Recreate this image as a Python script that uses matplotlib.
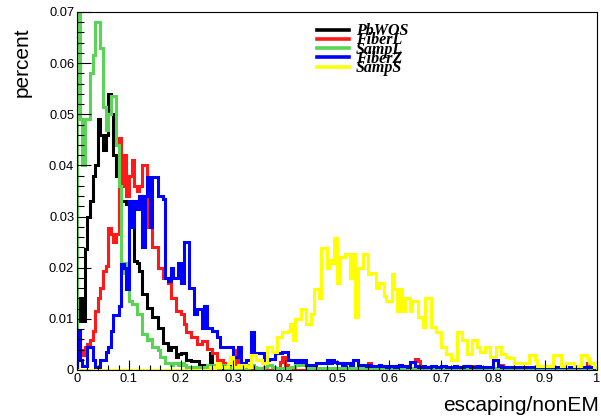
import numpy as np
import matplotlib
matplotlib.use("Agg")
import matplotlib.pyplot as plt
from matplotlib.ticker import MultipleLocator, FuncFormatter

# bin edges: 200 bins from 0 to 1
edges = np.linspace(0.0, 1.0, 201)

labels = ["PbWOS", "FiberL", "SampL", "FiberZ", "SampS"]
colors = ["#000000", "#ff1a1a", "#59d454", "#0000ff", "#ffff00"]

pbwos = [
    0.0095, 0.014, 0.0095, 0.0236, 0.030, 0.033, 0.038, 0.040, 0.049, 0.046,
    0.043, 0.046, 0.054, 0.050, 0.042, 0.038, 0.035, 0.033, 0.033, 0.0325,
    0.030, 0.029, 0.0213, 0.021, 0.0194, 0.0149, 0.0149, 0.0122, 0.0122, 0.0103,
    0.0103, 0.0083, 0.0083, 0.0052, 0.0052, 0.0039, 0.0045, 0.0045, 0.0026, 0.0032,
    0.0033, 0.0033, 0.002, 0.002, 0.0017, 0.0017, 0.0017, 0.001, 0.001, 0.001,
    0.001, 0.0033, 0.001, 0.0005, 0.0005, 0.0005, 0.0, 0.0005, 0.0, 0.002,
    0.0, 0.0005, 0.0, 0.0, 0.0005, 0.0, 0.0, 0.0, 0.0005, 0.0,
] + [0.0] * 130

fiberl = [
    0.0075, 0.004, 0.003, 0.0045, 0.005, 0.0058, 0.0077, 0.0116, 0.014, 0.016,
    0.0193, 0.0203, 0.0277, 0.0265, 0.025, 0.0265, 0.0454, 0.036, 0.042, 0.034,
    0.038, 0.041, 0.036, 0.035, 0.036, 0.040, 0.040, 0.028, 0.028, 0.024,
    0.024, 0.020, 0.020, 0.018, 0.018, 0.017, 0.014, 0.014, 0.0116, 0.0116,
    0.011, 0.009, 0.0074, 0.0074, 0.0064, 0.0064, 0.005, 0.005, 0.0056, 0.0056,
    0.0042, 0.0042, 0.0033, 0.0033, 0.002, 0.002, 0.0013, 0.0013, 0.0006, 0.0006,
    0.0006, 0.0039, 0.0005, 0.0005, 0.0005, 0.001, 0.0, 0.0005, 0.0, 0.0,
    0.0, 0.0, 0.0005, 0.0, 0.0, 0.0, 0.0, 0.0, 0.0015, 0.0025,
    0.001, 0.0, 0.0, 0.0, 0.0, 0.0, 0.0, 0.0, 0.0, 0.0005,
    0.0, 0.0, 0.0, 0.0, 0.0, 0.0, 0.0, 0.0, 0.0, 0.0,
    0.0, 0.0, 0.0, 0.0, 0.0, 0.0, 0.0, 0.0, 0.0, 0.0,
    0.0, 0.0, 0.0013, 0.0, 0.0, 0.0, 0.0, 0.0, 0.0, 0.0008,
    0.0, 0.0, 0.0, 0.0, 0.0, 0.0, 0.0, 0.0, 0.0, 0.0,
    0.0022, 0.0018, 0.0, 0.0, 0.0, 0.0, 0.0, 0.0, 0.0, 0.0,
    0.0008, 0.0, 0.0, 0.0, 0.0, 0.0, 0.0, 0.0, 0.0, 0.0,
    0.0, 0.0, 0.0008, 0.0, 0.0, 0.0, 0.0, 0.0, 0.0, 0.0,
    0.0, 0.0, 0.0, 0.001, 0.0, 0.0, 0.0, 0.0, 0.0, 0.0,
    0.0, 0.0, 0.0, 0.0, 0.0, 0.0, 0.0, 0.0, 0.0, 0.0,
    0.0, 0.0, 0.0, 0.0, 0.0, 0.0, 0.0, 0.0, 0.0, 0.0,
    0.0, 0.0, 0.0, 0.0, 0.0, 0.0, 0.0013, 0.0, 0.0, 0.0,
]

sampl = [
    0.072, 0.049, 0.040, 0.049, 0.049, 0.058, 0.0615, 0.068, 0.068, 0.063,
    0.0515, 0.047, 0.050, 0.0535, 0.0535, 0.044, 0.036, 0.019, 0.021, 0.018,
    0.0135, 0.013, 0.013, 0.011, 0.011, 0.007, 0.007, 0.0058, 0.006, 0.0045,
    0.0045, 0.004, 0.0025, 0.0025, 0.0013, 0.0013, 0.001, 0.0013, 0.0013, 0.001,
    0.0013, 0.001, 0.0006, 0.0004, 0.0006, 0.0004, 0.0006, 0.0004, 0.0006, 0.0006,
    0.001, 0.001, 0.001, 0.0006, 0.0004, 0.0006, 0.001, 0.0004, 0.0006, 0.0004,
    0.0004, 0.0006, 0.0004, 0.0004, 0.0006, 0.0004, 0.001, 0.001, 0.0006, 0.0004,
    0.0004, 0.0004, 0.0006, 0.001, 0.001, 0.0006, 0.0004, 0.0004, 0.0004, 0.0004,
    0.0004, 0.0004, 0.0006, 0.0006, 0.001, 0.001, 0.001, 0.001, 0.0006, 0.0004,
    0.0004, 0.0004, 0.0004, 0.0004, 0.0004, 0.0004, 0.0004, 0.0004, 0.0004, 0.0004,
    0.0003, 0.0003, 0.0003, 0.0003, 0.0003, 0.0003, 0.0003, 0.0003, 0.0003, 0.0003,
    0.0003, 0.0003, 0.0003, 0.0003, 0.0003, 0.0003, 0.0003, 0.0003, 0.0003, 0.0003,
    0.0003, 0.0003, 0.0003, 0.0003, 0.0003, 0.0003, 0.0003, 0.0003, 0.0003, 0.0003,
    0.0003, 0.0003, 0.0003, 0.0003, 0.0003, 0.0003, 0.0003, 0.0003, 0.0003, 0.0003,
    0.0003, 0.0003, 0.0003, 0.0003, 0.0003, 0.0003, 0.0003, 0.0003, 0.0003, 0.0003,
    0.0003, 0.0003, 0.0003, 0.0003, 0.0003, 0.0003, 0.0003, 0.0003, 0.0003, 0.0003,
    0.0003, 0.0003, 0.0003, 0.0003, 0.0003, 0.0003, 0.0, 0.0, 0.0, 0.0,
] + [0.0] * 30

fiberz = [
    0.0077, 0.002, 0.0008, 0.0008, 0.0045, 0.0045, 0.002, 0.0006, 0.0006, 0.002,
    0.002, 0.0035, 0.0045, 0.0077, 0.0108, 0.0108, 0.0126, 0.0207, 0.020, 0.0158,
    0.033, 0.028, 0.033, 0.0315, 0.034, 0.024, 0.034, 0.0377, 0.028, 0.0377,
    0.0377, 0.034, 0.034, 0.0335, 0.018, 0.0175, 0.020, 0.018, 0.018, 0.021,
    0.017, 0.0251, 0.0251, 0.016, 0.016, 0.011, 0.012, 0.012, 0.0083, 0.0125,
    0.0083, 0.0083, 0.0077, 0.0077, 0.0064, 0.0045, 0.0045, 0.0045, 0.0045, 0.0045,
    0.0026, 0.0026, 0.0045, 0.0013, 0.0013, 0.002, 0.002, 0.0074, 0.0033, 0.0033,
    0.0033, 0.0033, 0.0019, 0.0019, 0.0022, 0.0022, 0.0033, 0.0033, 0.0033, 0.0036,
    0.0036, 0.002, 0.002, 0.002, 0.0015, 0.002, 0.0015, 0.002, 0.001, 0.001,
    0.001, 0.001, 0.0013, 0.0013, 0.0013, 0.0013, 0.002, 0.0013, 0.002, 0.0015,
    0.0013, 0.0013, 0.001, 0.0013, 0.0013, 0.001, 0.002, 0.002, 0.001, 0.001,
    0.001, 0.0008, 0.001, 0.0008, 0.0008, 0.0008, 0.001, 0.0008, 0.0008, 0.0006,
    0.0008, 0.0008, 0.0006, 0.0008, 0.001, 0.0008, 0.0008, 0.0006, 0.0015, 0.0015,
    0.0008, 0.0006, 0.0006, 0.0008, 0.0006, 0.0006, 0.0008, 0.0008, 0.0006, 0.0006,
    0.0008, 0.0008, 0.0006, 0.0006, 0.0006, 0.0008, 0.0006, 0.0006, 0.0006, 0.0008,
    0.0008, 0.0006, 0.0006, 0.0006, 0.0008, 0.0006, 0.0006, 0.0006, 0.0006, 0.0006,
    0.002, 0.002, 0.0008, 0.0006, 0.0006, 0.0006, 0.0006, 0.0006, 0.0006, 0.0006,
    0.0006, 0.0006, 0.0006, 0.0006, 0.0006, 0.0006, 0.0006, 0.0006, 0.0006, 0.0006,
    0.0006, 0.0006, 0.0006, 0.0006, 0.0006, 0.0006, 0.0006, 0.0006, 0.0006, 0.0006,
    0.0006, 0.0006, 0.0006, 0.0006, 0.0006, 0.0006, 0.0006, 0.0006, 0.0006, 0.0,
]

samps = [0.0] * 50 + [
    0.0, 0.0005, 0.0, 0.0005, 0.0013, 0.0005, 0.0005, 0.0005, 0.0013, 0.0025,
    0.0005, 0.0005, 0.001, 0.0005, 0.001, 0.0008, 0.0005, 0.003, 0.003, 0.002,
    0.002, 0.0013, 0.0013, 0.0045, 0.0045, 0.0035, 0.0035, 0.0064, 0.0064, 0.0074,
    0.0074, 0.0077, 0.009, 0.0058, 0.010, 0.010, 0.012, 0.012, 0.009, 0.009,
    0.011, 0.0158, 0.0158, 0.014, 0.0238, 0.0238, 0.020, 0.0216, 0.021, 0.0258,
    0.017, 0.022, 0.022, 0.0226, 0.0226, 0.018, 0.0226, 0.0103, 0.020, 0.020,
    0.0226, 0.0226, 0.0187, 0.019, 0.019, 0.016, 0.017, 0.017, 0.0145, 0.0135,
    0.0135, 0.0187, 0.0158, 0.0116, 0.0158, 0.0116, 0.014, 0.014, 0.0116, 0.0135,
    0.0135, 0.0103, 0.0103, 0.0084, 0.014, 0.014, 0.0084, 0.0084, 0.0074, 0.0074,
    0.0045, 0.0045, 0.0032, 0.0032, 0.002, 0.002, 0.0074, 0.0074, 0.0058, 0.0058,
    0.0032, 0.0032, 0.0058, 0.0058, 0.0045, 0.0035, 0.0035, 0.0045, 0.0045, 0.0026,
    0.0026, 0.0045, 0.0045, 0.0032, 0.0032, 0.0026, 0.0023, 0.0023, 0.0013, 0.0013,
    0.0013, 0.0013, 0.0013, 0.0013, 0.003, 0.003, 0.002, 0.0007, 0.0007, 0.0007,
    0.0007, 0.0007, 0.0007, 0.003, 0.003, 0.003, 0.0007, 0.0007, 0.0013, 0.0013,
    0.0013, 0.0007, 0.0007, 0.0007, 0.003, 0.003, 0.0023, 0.0013, 0.0013, 0.0005,
]

series = [pbwos, fiberl, sampl, fiberz, samps]

plt.rcParams['font.family'] = ['Liberation Sans', 'DejaVu Sans']

fig = plt.figure(figsize=(6.01, 4.17), dpi=100)
ax = fig.add_axes([77 / 601, 1 - 370 / 417, 520 / 601, 358 / 417])

handles = []
for vals, col, lab in zip(series, colors, labels):
    h = ax.stairs(vals, edges, color=col, linewidth=2.2, baseline=0, label=lab)
    handles.append(h)

ax.set_xlim(0, 1)
ax.set_ylim(0, 0.07)

fmt = FuncFormatter(lambda v, pos: "%g" % round(v, 4))
ax.xaxis.set_major_locator(MultipleLocator(0.1))
ax.xaxis.set_minor_locator(MultipleLocator(0.02))
ax.yaxis.set_major_locator(MultipleLocator(0.01))
ax.yaxis.set_minor_locator(MultipleLocator(0.002))
ax.xaxis.set_major_formatter(fmt)
ax.yaxis.set_major_formatter(fmt)

ax.tick_params(axis='both', which='both', direction='in', top=False, right=False,
               labelsize=9.3, width=0.8)
ax.tick_params(axis='x', which='major', length=7, pad=2)
ax.tick_params(axis='x', which='minor', length=3.5)
ax.tick_params(axis='y', which='major', length=10, pad=2)
ax.tick_params(axis='y', which='minor', length=5)
for sp in ax.spines.values():
    sp.set_linewidth(0.8)

leg = ax.legend(handles=handles, loc='upper left', bbox_to_anchor=(0.44, 1.0),
                frameon=False, handlelength=2.0, handletextpad=0.45,
                labelspacing=-0.42, borderpad=0.2,
                prop={'family': 'Liberation Serif', 'weight': 'bold',
                      'style': 'italic', 'size': 11.5})
for line in leg.get_lines():
    line.set_linewidth(2.6)

fig.text(22 / 601, 1 - 27 / 417, "percent", rotation=90, ha='center', va='top',
         fontsize=15)
fig.text(599 / 601, 1 - 411 / 417, "escaping/nonEM", ha='right', va='baseline',
         fontsize=15)

fig.savefig("out.png", dpi=100)
